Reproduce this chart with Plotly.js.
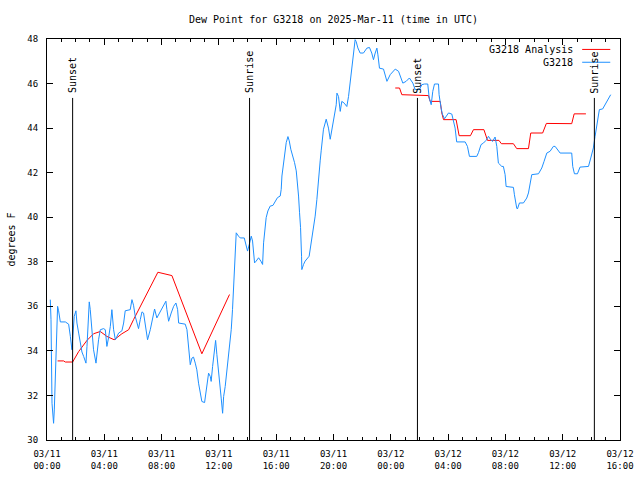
<!DOCTYPE html>
<html><head><meta charset="utf-8">
<script src="https://cdn.plot.ly/plotly-3.0.1.min.js"></script>
<style>html,body{margin:0;padding:0;background:#fff}#chart{width:640px;height:480px}</style>
</head><body><div id="chart"></div>
<script>
// hours since 2025-03-11 00:00 UTC
const obsHours = [0.23,0.28,0.35,0.46,0.51,0.58,0.65,0.74,0.81,0.93,1.28,1.51,1.63,1.74,1.81,1.9,2.02,2.09,2.21,2.32,2.44,2.56,2.72,2.79,2.86,2.95,3.02,3.14,3.25,3.42,3.49,3.6,3.72,3.95,4.07,4.18,4.3,4.42,4.53,4.65,4.77,4.88,5.0,5.23,5.35,5.46,5.81,5.93,6.04,6.16,6.28,6.39,6.51,6.63,6.74,6.86,7.02,7.21,7.37,7.51,7.67,7.91,8.14,8.3,8.37,8.49,8.67,8.84,9.0,9.12,9.19,9.65,9.77,9.88,10.0,10.12,10.23,10.35,10.46,10.58,10.7,10.81,11.0,11.09,11.19,11.28,11.4,11.46,11.56,11.67,11.77,11.86,11.98,12.09,12.16,12.26,12.33,12.44,12.56,12.67,12.86,12.95,13.02,13.09,13.21,13.37,13.49,13.77,13.89,14.0,14.12,14.19,14.26,14.35,14.42,14.49,14.6,14.77,14.93,15.05,15.12,15.23,15.3,15.42,15.58,15.77,15.93,16.09,16.28,16.35,16.4,16.51,16.58,16.7,16.82,16.91,17.02,17.16,17.28,17.4,17.49,17.56,17.63,17.7,17.77,17.79,17.91,18.02,18.3,18.37,18.49,18.6,18.72,18.84,18.95,19.07,19.14,19.23,19.3,19.49,19.65,19.77,19.89,20.0,20.19,20.24,20.35,20.47,20.58,20.75,20.93,21.05,21.21,21.28,21.4,21.51,21.58,21.7,21.86,22.09,22.33,22.51,22.67,22.79,22.91,23.03,23.1,23.21,23.49,23.73,23.96,24.31,24.54,24.84,25.07,25.3,25.54,25.7,26.0,26.17,26.35,26.58,26.68,26.82,26.93,27.05,27.33,27.37,27.51,27.6,27.75,27.91,28.03,28.26,28.37,28.49,28.6,29.19,29.35,29.49,30.0,30.12,30.3,30.47,30.65,30.82,30.95,31.1,31.28,31.4,31.51,31.75,31.86,31.98,32.05,32.56,32.63,32.72,32.79,32.84,32.98,33.26,33.49,33.61,33.73,33.84,34.31,34.54,34.7,34.89,35.12,35.35,35.47,35.59,35.82,36.63,36.7,36.82,37.03,37.21,37.8,37.96,38.14,38.26,38.38,38.49,38.56,38.79,38.96,39.19,39.35];
const obsValues = [36.3,35.4,31.65,30.75,31.35,32.7,34.2,36.0,35.8,35.3,35.3,35.2,34.65,34.05,34.7,35.55,35.8,35.25,34.8,34.35,33.95,33.75,33.45,34.2,35.25,36.2,35.85,34.65,34.05,33.45,33.9,34.5,34.95,35.0,34.95,34.2,34.6,35.1,35.85,34.95,34.5,34.65,34.8,34.9,35.25,35.8,35.85,36.3,36.05,35.55,35.25,35.0,35.4,35.75,35.7,35.2,34.5,34.95,35.55,35.88,35.48,35.78,36.08,36.23,35.85,35.33,35.7,36.0,36.15,35.85,35.25,35.2,34.95,34.05,33.38,33.68,33.72,33.45,33.15,32.55,32.1,31.73,31.68,32.1,32.7,33.0,32.85,32.63,33.3,34.05,34.47,33.83,33.15,32.4,31.88,31.2,31.95,32.4,33.15,34.05,34.95,35.85,36.75,37.65,39.3,39.15,39.07,39.07,38.78,38.48,38.78,39.0,39.15,38.93,38.48,37.95,38.03,38.18,38.03,37.88,38.85,39.53,39.98,40.28,40.5,40.53,40.73,40.88,40.95,41.25,41.85,42.45,42.98,43.35,43.62,43.43,43.05,42.75,42.45,42.08,41.55,40.95,40.2,39.53,38.25,37.65,37.88,38.03,38.25,38.55,39.0,39.6,40.05,40.8,41.78,42.53,42.98,43.5,43.95,44.4,44.0,43.5,43.95,44.2,45.05,45.57,45.42,44.75,45.2,45.12,44.97,45.42,46.24,46.69,47.44,47.97,47.89,47.6,47.37,47.37,47.59,47.62,47.37,47.07,47.37,47.59,47.29,46.69,46.65,46.1,46.4,46.65,46.55,46.02,46.1,46.25,46.02,45.73,45.73,45.95,45.98,45.98,45.35,45.05,45.65,45.98,45.98,45.5,44.9,44.63,44.42,44.56,44.68,44.63,44.38,44.0,43.38,43.38,43.18,42.73,42.73,42.9,43.26,43.33,43.45,43.63,43.5,43.4,43.6,43.18,42.43,42.28,42.28,41.91,41.38,41.34,41.01,40.64,40.41,40.37,40.64,40.64,40.86,41.09,41.46,41.91,41.95,42.21,42.51,42.88,42.96,43.18,43.18,43.06,42.88,42.88,42.28,41.95,41.95,42.25,42.28,42.66,43.11,43.63,44.08,44.68,44.83,44.86,45.05,45.35,45.5];

const anaHours = [0.74,1.16,1.28,1.79,2.21,2.79,3.25,3.72,4.18,4.69,5.23,5.7,6.04,7.74,8.72,10.81,12.74,null,24.31,24.61,24.77,26.63,26.75,27.45,27.56,27.68,28.56,28.77,29.56,29.77,30.5,30.75,31.55,31.72,32.56,32.79,33.61,33.77,34.6,34.86,36.63,36.8,37.62];
const anaValues = [33.55,33.55,33.5,33.5,33.97,34.47,34.77,34.87,34.65,34.5,34.77,34.95,35.4,37.53,37.38,33.87,36.53,null,45.8,45.8,45.5,45.46,45.2,45.2,44.68,44.38,44.38,43.66,43.66,43.93,43.93,43.45,43.45,43.3,43.3,43.08,43.08,43.78,43.78,44.21,44.2,44.64,44.64];

const eventHours = [1.79, 14.14, 25.86, 38.21];
const eventLabels = ['Sunset', 'Sunrise', 'Sunset', 'Sunrise'];

const tickHours = [0,4,8,12,16,20,24,28,32,36,40];
const tickLabels = ['03/11<br>00:00','03/11<br>04:00','03/11<br>08:00','03/11<br>12:00','03/11<br>16:00','03/11<br>20:00','03/12<br>00:00','03/12<br>04:00','03/12<br>08:00','03/12<br>12:00','03/12<br>16:00'];
const yTicks = [30,32,34,36,38,40,42,44,46,48];

const seriesNames = ['G3218 Analysis', 'G3218'];
const seriesColors = ['#ff0000', '#1e90ff'];

function toTime(h) {
  if (h === null) return null;
  return new Date(Date.UTC(2025, 2, 11) + Math.round(h * 3600000)).toISOString().replace('T', ' ').slice(0, 19);
}

const FONT = {family: 'DejaVu Sans Mono, monospace', size: 10, color: '#000'};
const TICKFONT = {family: 'DejaVu Sans Mono, monospace', size: 9, color: '#000'};

const traces = [
  {x: anaHours.map(toTime), y: anaValues, type: 'scatter', mode: 'lines', name: seriesNames[0],
   line: {color: seriesColors[0], width: 1}, connectgaps: false, hoverinfo: 'skip'},
  {x: obsHours.map(toTime), y: obsValues, type: 'scatter', mode: 'lines', name: seriesNames[1],
   line: {color: seriesColors[1], width: 1}, hoverinfo: 'skip'}
];

const shapes = eventHours.map(h => ({
  type: 'line', xref: 'x', yref: 'paper', x0: toTime(h), x1: toTime(h), y0: 0, y1: 0.853,
  line: {color: '#000', width: 1}
}));
const annotations = eventHours.map((h, i) => ({
  xref: 'x', yref: 'paper', x: toTime(h), y: 0.862, xanchor: 'center', yanchor: 'bottom',
  text: eventLabels[i], textangle: -90, showarrow: false, font: FONT, borderpad: 0
}));

// legend (text left of sample line, like the original)
const legendY = [0.974, 0.942];
seriesNames.forEach((n, i) => {
  annotations.push({xref: 'paper', yref: 'paper', x: 0.92, y: legendY[i], xanchor: 'right', yanchor: 'middle',
    text: n, showarrow: false, font: FONT, borderpad: 0});
  shapes.push({type: 'line', xref: 'paper', yref: 'paper', x0: 0.934, x1: 0.983, y0: legendY[i], y1: legendY[i],
    line: {color: seriesColors[i], width: 1}});
});

const axisCommon = {
  ticks: 'inside', ticklen: 6, tickwidth: 1, tickcolor: '#000', showline: true, linecolor: '#000', linewidth: 1,
  mirror: 'allticks', showgrid: false, zeroline: false, tickfont: TICKFONT, fixedrange: true
};

const layout = {
  width: 640, height: 480,
  margin: {l: 47, r: 20, t: 39, b: 40, pad: 0},
  paper_bgcolor: '#fff', plot_bgcolor: '#fff',
  font: FONT, showlegend: false,
  title: {text: 'Dew Point for G3218 on 2025-Mar-11 (time in UTC)', font: FONT, x: 0.5, xref: 'paper', xanchor: 'center',
          y: 1 - 19 / 480, yref: 'container', yanchor: 'middle'},
  xaxis: Object.assign({}, axisCommon, {
    type: 'date', range: [toTime(0), toTime(40)], tickmode: 'array',
    tickvals: tickHours.map(toTime), ticktext: tickLabels, ticklabelstandoff: 5,
    minor: {dtick: 3600000, tick0: toTime(0), ticks: 'inside', ticklen: 3, tickcolor: '#000', showgrid: false}
  }),
  yaxis: Object.assign({}, axisCommon, {
    range: [30, 48], tickmode: 'array', tickvals: yTicks, ticktext: yTicks.map(String), ticklabelstandoff: 6,
    title: {text: 'degrees F', font: FONT, standoff: 9}
  }),
  shapes: shapes,
  annotations: annotations
};

Plotly.newPlot('chart', traces, layout, {staticPlot: true, displayModeBar: false});
</script>
</body></html>
